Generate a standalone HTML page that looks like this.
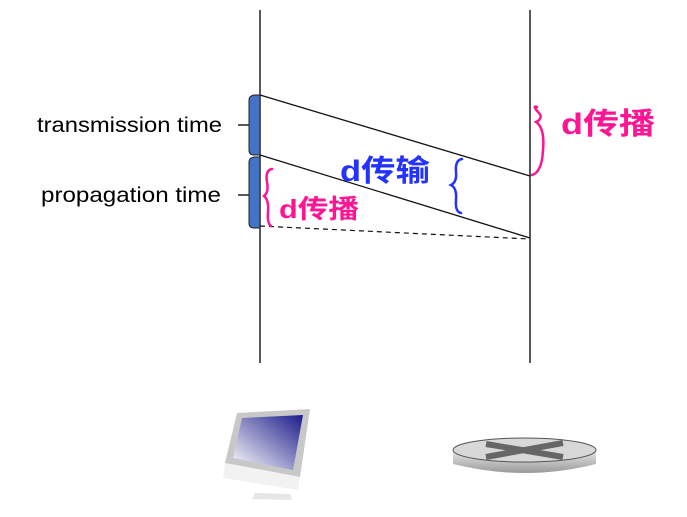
<!DOCTYPE html>
<html><head><meta charset="utf-8"><style>
html,body{margin:0;padding:0;background:#fff;}
svg{display:block;}
</style></head><body>
<svg width="687" height="517" viewBox="0 0 687 517">
<defs>
<linearGradient id="scr" x1="1" y1="0" x2="0" y2="1"><stop offset="0" stop-color="#1a1a8a"/><stop offset="1" stop-color="#ffffff"/></linearGradient>
<linearGradient id="rt" x1="0" y1="0" x2="0" y2="1"><stop offset="0" stop-color="#e8e8e8"/><stop offset="1" stop-color="#9a9a9a"/></linearGradient>
</defs>
<line x1="260" y1="10" x2="260" y2="363" stroke="#222" stroke-width="1.5"/>
<line x1="530" y1="10" x2="530" y2="363" stroke="#222" stroke-width="1.5"/>
<path d="M260 95 L254 95 Q249 96 249 100 L249 150 Q249 155 254 155 L260 155 Z" fill="#4472c4" stroke="#222" stroke-width="1"/>
<path d="M260 157 L254 157 Q249 158 249 162 L249 223 Q249 228 254 228 L260 228 Z" fill="#4472c4" stroke="#222" stroke-width="1"/>
<line x1="238" y1="125" x2="249" y2="125" stroke="#222" stroke-width="1.5"/>
<line x1="238" y1="195" x2="249" y2="195" stroke="#222" stroke-width="1.5"/>
<text x="37" y="132" font-family="Liberation Sans, sans-serif" font-size="21" textLength="185" lengthAdjust="spacingAndGlyphs" fill="#000">transmission time</text>
<text x="41" y="202" font-family="Liberation Sans, sans-serif" font-size="21" textLength="180" lengthAdjust="spacingAndGlyphs" fill="#000">propagation time</text>
<line x1="260" y1="95" x2="530" y2="176" stroke="#111" stroke-width="1.3"/>
<line x1="260" y1="155" x2="530" y2="238" stroke="#111" stroke-width="1.3"/>
<line x1="260" y1="226" x2="530" y2="239" stroke="#111" stroke-width="1.2" stroke-dasharray="5,4"/>
<path d="M537 107 Q532 105 538 112 Q544 118 536 122 Q545 128 543 150 Q542 172 532 175" fill="none" stroke="#ff1493" stroke-width="2.5" stroke-linecap="round"/>
<text x="561" y="134" font-family="Liberation Sans, 'Noto Sans CJK SC', sans-serif" font-size="30" font-weight="bold" textLength="94" lengthAdjust="spacingAndGlyphs" fill="#ff1493">d传播</text>
<path d="M462 159 Q455 160 456 172 Q457 182 451 185 Q457 188 456 200 Q455 212 461 213" fill="none" stroke="#2432ff" stroke-width="2.5" stroke-linecap="round"/>
<text x="340" y="181" font-family="Liberation Sans, 'Noto Sans CJK SC', sans-serif" font-size="30" font-weight="bold" textLength="90" lengthAdjust="spacingAndGlyphs" fill="#2432ff">d传输</text>
<path d="M272 169 Q265 170 267 182 Q269 192 264 196 Q269 200 268 212 Q267 223 271 226" fill="none" stroke="#ff1493" stroke-width="2.5" stroke-linecap="round"/>
<text x="279" y="218" font-family="Liberation Sans, 'Noto Sans CJK SC', sans-serif" font-size="26" font-weight="bold" textLength="80" lengthAdjust="spacingAndGlyphs" fill="#ff1493">d传播</text>
<g>
<polygon points="237,413 310,409 300,477 225,463" fill="#c8c8c8"/>
<polygon points="242,418 303,415 293,470 233,458" fill="url(#scr)"/>
<polygon points="225,463 300,477 298,490 223,478" fill="#f2f2f2"/>
<polygon points="255,493 290,494 292,500 252,499" fill="#e6e6e6"/>
</g>
<g>
<path d="M453 450 L453 464 Q525 482 596 464 L596 450 Z" fill="url(#rt)"/>
<ellipse cx="524.5" cy="450" rx="71.5" ry="12" fill="#d8d8d8" stroke="#555" stroke-width="1"/>
<path d="M486 444 L563 457 M563 443 L486 457" stroke="#666" stroke-width="6"/>
</g>
</svg>
</body></html>
